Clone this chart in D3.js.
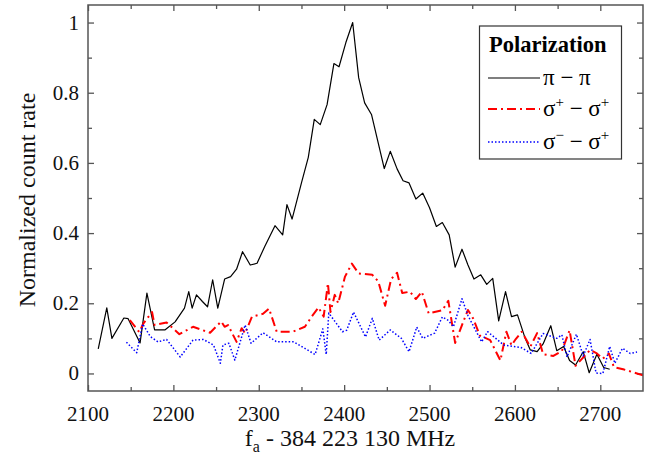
<!DOCTYPE html>
<html>
<head>
<meta charset="utf-8">
<script src="https://cdn.jsdelivr.net/npm/d3@7"></script>
<style>
  body { margin: 0; background: #fff; }
</style>
</head>
<body>
<svg id="chart" width="657" height="456"></svg>
<script>
// pi - pi
const piX = [2112, 2122, 2128, 2142, 2147, 2161, 2169, 2178, 2190, 2202, 2213, 2218, 2222, 2227, 2234, 2240, 2246, 2252, 2260, 2267, 2274, 2281, 2290, 2298, 2307, 2319, 2328, 2333, 2339, 2350, 2358, 2365, 2372, 2380, 2388, 2394, 2402, 2410, 2417, 2424, 2432, 2447, 2454, 2462, 2469, 2476, 2484, 2492, 2500, 2508, 2515, 2523, 2530, 2538, 2545, 2552, 2560, 2567, 2574, 2581, 2589, 2596, 2603, 2612, 2618, 2626, 2633, 2642, 2649, 2657, 2664, 2671, 2680, 2687, 2696, 2704, 2711];
const piY = [0.07, 0.187, 0.10, 0.158, 0.156, 0.087, 0.229, 0.124, 0.124, 0.147, 0.186, 0.233, 0.186, 0.224, 0.205, 0.19, 0.267, 0.186, 0.269, 0.276, 0.297, 0.347, 0.309, 0.314, 0.362, 0.421, 0.395, 0.481, 0.44, 0.543, 0.616, 0.724, 0.709, 0.766, 0.883, 0.874, 0.943, 1.0, 0.843, 0.771, 0.738, 0.584, 0.633, 0.583, 0.549, 0.543, 0.497, 0.514, 0.472, 0.419, 0.43, 0.395, 0.303, 0.354, 0.309, 0.269, 0.281, 0.254, 0.271, 0.15, 0.233, 0.162, 0.167, 0.1, 0.067, 0.062, 0.084, 0.136, 0.065, 0.077, 0.037, 0.024, 0.062, 0.002, 0.055, 0.017, 0.012];

// sigma+ - sigma+
const spX = [2149, 2160, 2165, 2175, 2178, 2192, 2207, 2223, 2243, 2256, 2260, 2264, 2274, 2280, 2284, 2292, 2305, 2312, 2321, 2340, 2354, 2362, 2370, 2376, 2381, 2384, 2389, 2393, 2401, 2409, 2417, 2433, 2440, 2448, 2455, 2462, 2468, 2477, 2484, 2491, 2499, 2515, 2522, 2530, 2538, 2545, 2551, 2559, 2571, 2583, 2590, 2596, 2601, 2608, 2618, 2626, 2633, 2645, 2655, 2664, 2671, 2679, 2688, 2696, 2703, 2710, 2716, 2728, 2743, 2750];
const spY = [0.152, 0.118, 0.143, 0.175, 0.138, 0.145, 0.112, 0.133, 0.116, 0.148, 0.133, 0.138, 0.09, 0.129, 0.114, 0.162, 0.17, 0.185, 0.119, 0.119, 0.133, 0.162, 0.188, 0.162, 0.257, 0.175, 0.224, 0.2, 0.276, 0.313, 0.285, 0.281, 0.262, 0.193, 0.269, 0.287, 0.229, 0.233, 0.212, 0.233, 0.171, 0.18, 0.207, 0.087, 0.138, 0.181, 0.157, 0.108, 0.095, 0.037, 0.119, 0.08, 0.098, 0.119, 0.076, 0.115, 0.055, 0.05, 0.064, 0.123, 0.022, 0.043, 0.067, 0.057, 0.042, 0.057, 0.018, 0.011, 0.0, -0.005];

// sigma- - sigma+
const smX = [2145, 2157, 2164, 2173, 2182, 2192, 2208, 2223, 2235, 2247, 2255, 2258, 2265, 2272, 2284, 2291, 2305, 2321, 2341, 2366, 2375, 2379, 2382, 2398, 2403, 2411, 2425, 2433, 2441, 2454, 2467, 2476, 2485, 2492, 2506, 2515, 2522, 2528, 2538, 2545, 2561, 2568, 2575, 2587, 2607, 2619, 2633, 2649, 2655, 2661, 2672, 2680, 2688, 2695, 2703, 2711, 2717, 2726, 2735, 2743];
const smY = [0.089, 0.059, 0.141, 0.105, 0.09, 0.097, 0.047, 0.095, 0.097, 0.081, 0.029, 0.081, 0.086, 0.038, 0.138, 0.086, 0.116, 0.09, 0.09, 0.054, 0.127, 0.054, 0.172, 0.119, 0.123, 0.175, 0.104, 0.157, 0.095, 0.124, 0.1, 0.062, 0.132, 0.1, 0.115, 0.161, 0.151, 0.133, 0.213, 0.165, 0.09, 0.119, 0.105, 0.081, 0.074, 0.057, 0.114, 0.1, 0.11, 0.047, 0.112, 0.05, 0.097, 0.001, 0.0, 0.077, 0.029, 0.072, 0.057, 0.061];

const xTicks = [2100, 2200, 2300, 2400, 2500, 2600, 2700];
const yTicks = [0, 0.2, 0.4, 0.6, 0.8, 1];

const svg = d3.select("#chart").attr("font-family", "'Liberation Serif', 'Times New Roman', 'DejaVu Serif', serif");
const mLeft = 88, mRight = 643, mTop = 5, mBottom = 391;

let x = d3.scaleLinear().domain([2100, 2750]).range([mLeft, mRight]);
let y = d3.scaleLinear().domain([-0.05, 1.05]).range([mBottom, mTop]);

svg.append("defs").append("clipPath").attr("id", "clip")
  .append("rect").attr("x", mLeft).attr("y", mTop).attr("width", mRight - mLeft).attr("height", mBottom - mTop);

const axisColor = "#555";

// ticks on all four sides, pointing in
function drawTicks(axis, transform, ticks, len) {
  let g = svg.append("g").attr("transform", transform)
    .call(axis.tickValues(ticks).tickSize(len).tickFormat(""));
  g.select(".domain").remove();
  g.selectAll("line").attr("stroke", axisColor).attr("stroke-width", 1.3);
}
const xMinor = d3.range(2150, 2750, 100);
const yMinor = [0.1, 0.3, 0.5, 0.7, 0.9];
drawTicks(d3.axisTop(x), `translate(0,${mBottom})`, xTicks, 6);
drawTicks(d3.axisTop(x), `translate(0,${mBottom})`, xMinor, 4);
drawTicks(d3.axisBottom(x), `translate(0,${mTop})`, xTicks, 6);
drawTicks(d3.axisBottom(x), `translate(0,${mTop})`, xMinor, 4);
drawTicks(d3.axisRight(y), `translate(${mLeft},0)`, yTicks, 6);
drawTicks(d3.axisRight(y), `translate(${mLeft},0)`, yMinor, 4);
drawTicks(d3.axisLeft(y), `translate(${mRight},0)`, yTicks, 6);
drawTicks(d3.axisLeft(y), `translate(${mRight},0)`, yMinor, 4);

// tick labels
svg.append("g").selectAll("text").data(xTicks).enter().append("text")
  .attr("x", d => x(d)).attr("y", 421)
  .attr("text-anchor", "middle").attr("font-size", 21).attr("fill", "#111")
  .text(d => d);
svg.append("g").selectAll("text").data(yTicks).enter().append("text")
  .attr("x", 79).attr("y", d => y(d) + 7)
  .attr("text-anchor", "end").attr("font-size", 21).attr("fill", "#111")
  .text(d => d);

// data lines
const series = [
  { xs: piX, ys: piY, color: "#000", width: 1.2, dash: null },
  { xs: spX, ys: spY, color: "#f00", width: 2, dash: "9,4,2,4" },
  { xs: smX, ys: smY, color: "#00f", width: 1.5, dash: "1.5,2" }
];
let line = d3.line().x(d => x(d[0])).y(d => y(d[1]));
let plot = svg.append("g").attr("clip-path", "url(#clip)");
series.forEach(s => {
  plot.append("path")
    .datum(s.xs.map((v, i) => [v, s.ys[i]]))
    .attr("fill", "none")
    .attr("stroke", s.color)
    .attr("stroke-width", s.width)
    .attr("stroke-dasharray", s.dash)
    .attr("stroke-linejoin", "round")
    .attr("d", line);
});

// frame
svg.append("rect")
  .attr("x", mLeft).attr("y", mTop).attr("width", mRight - mLeft).attr("height", mBottom - mTop)
  .attr("fill", "none").attr("stroke", axisColor).attr("stroke-width", 1.5);

// axis titles
let xt = svg.append("text").attr("x", 350).attr("y", 446)
  .attr("text-anchor", "middle").attr("font-size", 24).attr("fill", "#111");
xt.append("tspan").text("f");
xt.append("tspan").attr("font-size", 16).attr("dy", 6).text("a");
xt.append("tspan").attr("dy", -6).text(" - 384 223 130 MHz");

svg.append("text")
  .attr("transform", "translate(35,200) rotate(-90)")
  .attr("text-anchor", "middle").attr("font-size", 24).attr("fill", "#111")
  .text("Normalized count rate");

// legend
let lg = svg.append("g");
lg.append("rect").attr("x", 479.5).attr("y", 26).attr("width", 142).attr("height", 133)
  .attr("fill", "#fff").attr("stroke", "#333").attr("stroke-width", 1.2);
lg.append("text").attr("x", 489).attr("y", 52).attr("font-size", 22.5).attr("font-weight", "bold")
  .attr("fill", "#000").text("Polarization");
const legendRows = [
  { y: 78, parts: [["π", 0], [" − π", 0]] },
  { y: 109, parts: [["σ", 0], ["+", 1], [" − σ", 0], ["+", 1]] },
  { y: 142, parts: [["σ", 0], ["−", 1], [" − σ", 0], ["+", 1]] }
];
legendRows.forEach((r, i) => {
  let s = series[i];
  lg.append("line").attr("x1", 488).attr("x2", 540).attr("y1", r.y).attr("y2", r.y)
    .attr("stroke", s.color).attr("stroke-width", s.width).attr("stroke-dasharray", s.dash);
  let t = lg.append("text").attr("x", 543).attr("y", r.y + 7).attr("font-size", 23).attr("fill", "#000");
  let prevSup = 0;
  r.parts.forEach(p => {
    let ts = t.append("tspan").text(p[0]);
    if (p[1] && !prevSup) ts.attr("font-size", 15).attr("dy", -9);
    else if (!p[1] && prevSup) ts.attr("dy", 9);
    prevSup = p[1];
  });
});
</script>
</body>
</html>
